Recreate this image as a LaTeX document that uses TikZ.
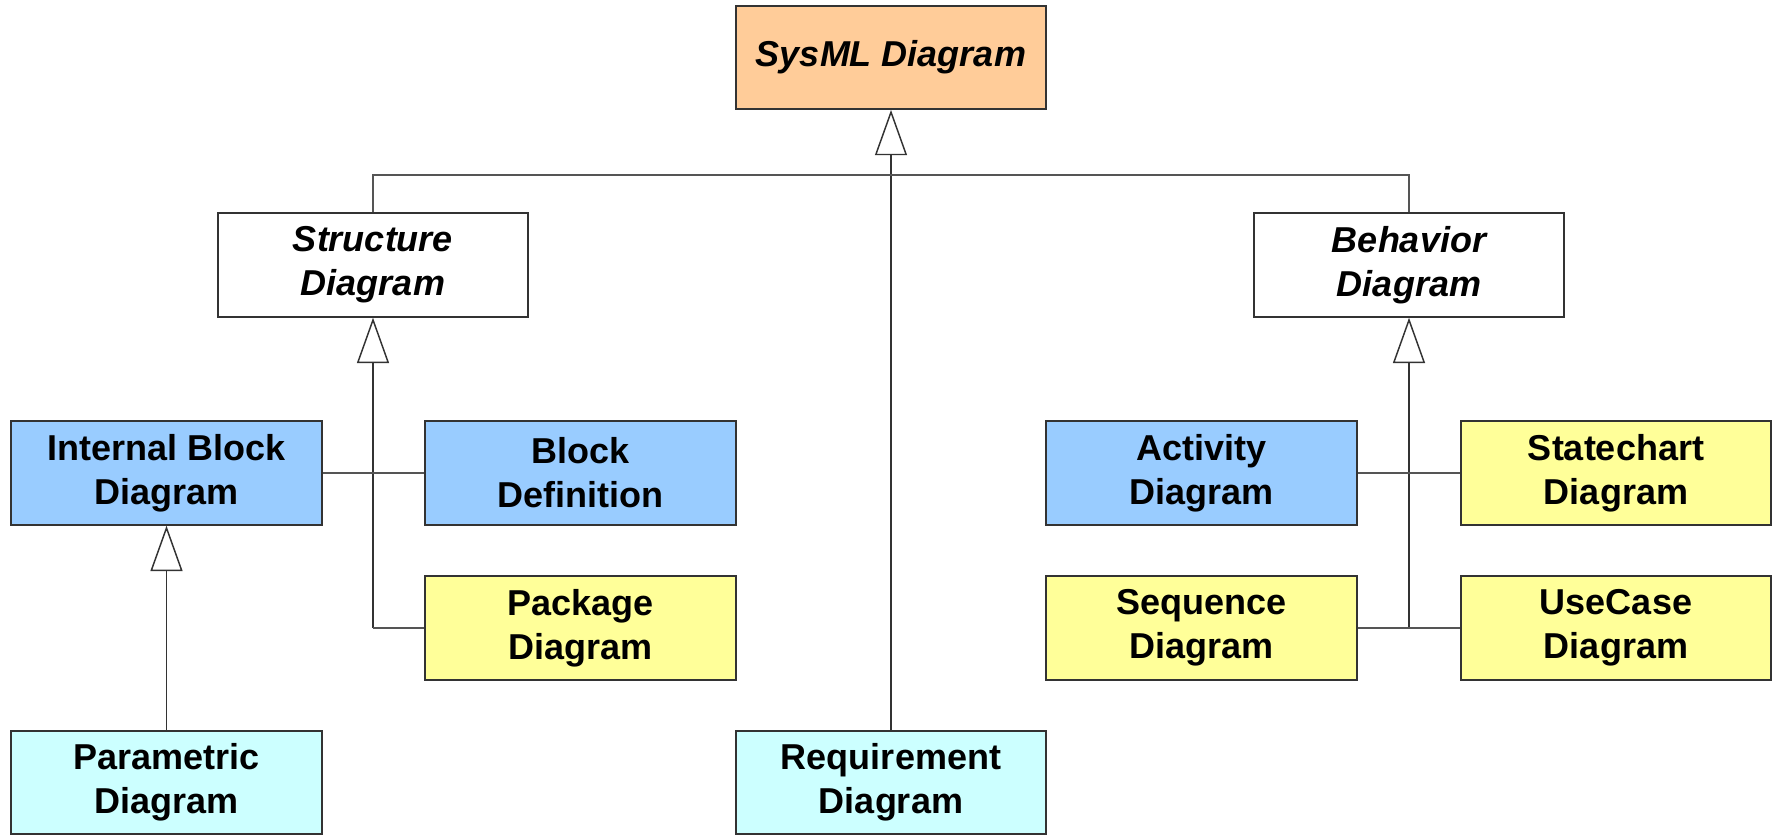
\documentclass[tikz,border=0pt]{standalone}
\usepackage{fontspec}
\setmainfont{Liberation Sans}
\usetikzlibrary{arrows.meta}
\definecolor{topfill}{HTML}{FFCC99}
\definecolor{bluefill}{HTML}{99CCFF}
\definecolor{yellowfill}{HTML}{FFFF99}
\definecolor{cyanfill}{HTML}{CCFFFF}
\definecolor{boxline}{HTML}{333333}
\definecolor{wire}{HTML}{555555}
\tikzset{
  diag/.style={draw=boxline, line width=1.6pt, minimum width=233pt, minimum height=77.5pt,
    inner sep=0pt, align=center, font=\fontsize{27}{33}\selectfont\bfseries},
  abstractdiag/.style={diag, font=\fontsize{27}{33}\selectfont\bfseries\itshape},
  wireline/.style={draw=wire, line width=1.1pt},
  gen/.style={wireline, -{Triangle[open, length=34pt, width=24pt, line width=1.1pt]}, draw=boxline}
}
\begin{document}
\begin{tikzpicture}[x=0.75pt, y=-0.75pt]
\useasboundingbox (0,0) rectangle (1776,835);

% top level
\node[abstractdiag, fill=topfill, minimum height=77pt] (sysml) at (891,57.5) {SysML Diagram};

% abstract categories
\node[abstractdiag, fill=white] (structure) at (373,265) {Structure\\Diagram};
\node[abstractdiag, fill=white] (behavior) at (1409,265) {Behavior\\Diagram};

% structure diagrams
\node[diag, fill=bluefill] (ibd) at (166.5,473) {Internal Block\\Diagram};
\node[diag, fill=bluefill] (bdd) at (580.5,473) {Block\\Definition};
\node[diag, fill=yellowfill] (pkg) at (580.5,628) {Package\\Diagram};
\node[diag, fill=cyanfill, minimum height=77pt] (par) at (166.5,782.5) {Parametric\\Diagram};

% requirement
\node[diag, fill=cyanfill, minimum height=77pt] (req) at (891,782.5) {Requirement\\Diagram};

% behavior diagrams
\node[diag, fill=bluefill] (act) at (1201.5,473) {Activity\\Diagram};
\node[diag, fill=yellowfill] (stm) at (1616,473) {Statechart\\Diagram};
\node[diag, fill=yellowfill] (seq) at (1201.5,628) {Sequence\\Diagram};
\node[diag, fill=yellowfill] (uc) at (1616,628) {UseCase\\Diagram};

% generalization to SysML Diagram
\draw[gen] (req.north) -- (sysml.south);
\coordinate (busL) at (373,175);
\draw[wireline] (structure.north) -- (busL) -| (behavior.north);

% structure branch
\coordinate (sjoin) at (373,628);
\draw[gen] (sjoin) -- (structure.south);
\draw[wireline] (sjoin) -- (pkg.west);
\draw[wireline] (ibd.east) -- (bdd.west);
\draw[gen] (par.north) -- (ibd.south);

% behavior branch
\coordinate (bjoin) at (1409,628);
\draw[gen] (bjoin) -- (behavior.south);
\draw[wireline] (seq.east) -- (uc.west);
\draw[wireline] (act.east) -- (stm.west);
\end{tikzpicture}
\end{document}
